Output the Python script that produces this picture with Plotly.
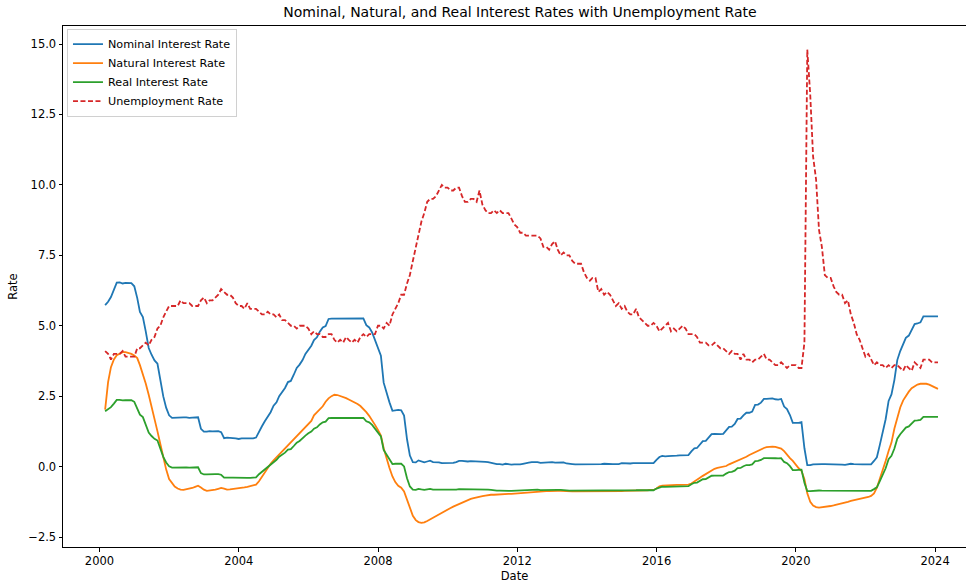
import pandas as pd
import plotly.graph_objects as go

# Monthly observations, Feb 2000 .. Jan 2024 (plotted at month end)
start_month = "2000-03-01"
n_months = 288

nominal = [
    5.73, 5.85, 6.02, 6.27, 6.53, 6.54, 6.50, 6.52, 6.51, 6.51, 6.40,
    5.98, 5.49, 5.31, 4.80, 4.21, 3.97, 3.77, 3.65, 3.07, 2.49, 2.09, 1.82,
    1.73, 1.74, 1.73, 1.75, 1.75, 1.75, 1.73, 1.74, 1.75, 1.75, 1.34, 1.24,
    1.24, 1.26, 1.25, 1.26, 1.26, 1.22, 1.01, 1.03, 1.01, 1.01, 1.00, 0.98,
    1.00, 1.01, 1.00, 1.00, 1.00, 1.03, 1.26, 1.43, 1.61, 1.76, 1.93, 2.16,
    2.28, 2.50, 2.63, 2.79, 3.00, 3.04, 3.26, 3.50, 3.62, 3.78, 4.00, 4.16,
    4.29, 4.49, 4.59, 4.79, 4.94, 4.99, 5.24, 5.25, 5.25, 5.25, 5.25, 5.24,
    5.25, 5.26, 5.26, 5.25, 5.25, 5.25, 5.26, 5.02, 4.94, 4.76, 4.49, 4.24,
    3.94, 2.98, 2.61, 2.28, 1.98, 2.00, 2.01, 2.00, 1.81, 0.97, 0.39, 0.16,
    0.15, 0.22, 0.18, 0.15, 0.18, 0.21, 0.16, 0.16, 0.15, 0.12, 0.12, 0.12,
    0.11, 0.13, 0.16, 0.20, 0.20, 0.18, 0.18, 0.19, 0.19, 0.19, 0.19, 0.18,
    0.17, 0.16, 0.14, 0.10, 0.09, 0.09, 0.07, 0.10, 0.08, 0.07, 0.08, 0.07,
    0.08, 0.10, 0.13, 0.14, 0.16, 0.16, 0.16, 0.13, 0.14, 0.16, 0.16, 0.16,
    0.14, 0.15, 0.14, 0.15, 0.11, 0.09, 0.09, 0.08, 0.08, 0.09, 0.08, 0.09,
    0.07, 0.07, 0.08, 0.09, 0.09, 0.10, 0.09, 0.09, 0.09, 0.09, 0.09, 0.12,
    0.11, 0.11, 0.11, 0.12, 0.12, 0.13, 0.13, 0.14, 0.14, 0.12, 0.12, 0.24,
    0.34, 0.38, 0.36, 0.37, 0.37, 0.38, 0.39, 0.40, 0.40, 0.40, 0.41, 0.54,
    0.65, 0.66, 0.79, 0.90, 0.91, 1.04, 1.15, 1.16, 1.15, 1.15, 1.16, 1.30,
    1.41, 1.42, 1.51, 1.69, 1.70, 1.82, 1.91, 1.91, 1.95, 2.19, 2.20, 2.27,
    2.40, 2.40, 2.41, 2.42, 2.39, 2.38, 2.40, 2.13, 2.04, 1.83, 1.55, 1.55,
    1.55, 1.58, 0.65, 0.05, 0.05, 0.08, 0.09, 0.10, 0.09, 0.09, 0.09, 0.09,
    0.09, 0.08, 0.07, 0.07, 0.06, 0.08, 0.10, 0.09, 0.08, 0.08, 0.08, 0.08,
    0.08, 0.08, 0.20, 0.33, 0.77, 1.21, 1.68, 2.33, 2.56, 3.08, 3.78, 4.10,
    4.33, 4.57, 4.65, 4.83, 5.06, 5.08, 5.12, 5.33, 5.33, 5.33, 5.33, 5.33,
    5.33,
]

natural = [
    2.02, 3.00, 3.53, 3.80, 3.95, 4.02, 4.06, 4.06, 4.04, 4.00, 3.94, 3.85,
    3.60, 3.30, 2.95, 2.55, 2.15, 1.70, 1.25, 0.80, 0.30, -0.10, -0.44, -0.60,
    -0.71, -0.78, -0.82, -0.83, -0.81, -0.79, -0.76, -0.72, -0.68, -0.74, -0.82, -0.86,
    -0.85, -0.83, -0.82, -0.79, -0.76, -0.78, -0.82, -0.81, -0.80, -0.79, -0.78, -0.76,
    -0.74, -0.72, -0.69, -0.67, -0.64, -0.52, -0.36, -0.20, -0.05, 0.10, 0.22, 0.33,
    0.44, 0.55, 0.65, 0.76, 0.87, 0.98, 1.09, 1.20, 1.30, 1.41, 1.51, 1.62,
    1.82, 1.92, 2.03, 2.14, 2.30, 2.42, 2.50, 2.55, 2.54, 2.51, 2.47, 2.43,
    2.38, 2.33, 2.28, 2.22, 2.15, 2.05, 1.93, 1.80, 1.65, 1.48, 1.30, 1.10,
    0.65, 0.25, -0.05, -0.35, -0.55, -0.68, -0.75, -0.88, -1.20, -1.50, -1.75, -1.90,
    -1.97, -2.00, -1.98, -1.93, -1.87, -1.81, -1.75, -1.69, -1.63, -1.57, -1.52, -1.47,
    -1.42, -1.37, -1.32, -1.27, -1.23, -1.19, -1.15, -1.12, -1.09, -1.07, -1.05, -1.03,
    -1.01, -1.00, -1.00, -0.99, -0.99, -0.98, -0.98, -0.97, -0.97, -0.96, -0.95, -0.94,
    -0.93, -0.92, -0.91, -0.90, -0.89, -0.88, -0.88, -0.87, -0.87, -0.87, -0.86, -0.86,
    -0.86, -0.86, -0.87, -0.87, -0.88, -0.88, -0.88, -0.88, -0.89, -0.89, -0.89, -0.89,
    -0.89, -0.89, -0.89, -0.88, -0.88, -0.88, -0.88, -0.88, -0.87, -0.87, -0.87, -0.86,
    -0.86, -0.86, -0.85, -0.85, -0.85, -0.84, -0.84, -0.84, -0.83, -0.83, -0.78, -0.70,
    -0.68, -0.67, -0.67, -0.66, -0.66, -0.65, -0.65, -0.65, -0.64, -0.64, -0.60, -0.52,
    -0.48, -0.40, -0.33, -0.27, -0.20, -0.13, -0.08, -0.05, -0.03, -0.02, 0.02, 0.08,
    0.12, 0.16, 0.21, 0.26, 0.30, 0.35, 0.41, 0.46, 0.52, 0.57, 0.62, 0.66,
    0.69, 0.71, 0.71, 0.70, 0.68, 0.64, 0.55, 0.42, 0.30, 0.20, 0.06, -0.06,
    -0.15, -0.45, -0.95, -1.25, -1.38, -1.44, -1.46, -1.45, -1.44, -1.42, -1.40, -1.38,
    -1.36, -1.33, -1.31, -1.28, -1.25, -1.22, -1.20, -1.17, -1.14, -1.12, -1.10, -1.08,
    -1.04, -0.95, -0.75, -0.45, -0.15, 0.20, 0.55, 0.85, 1.35, 1.75, 2.10, 2.35,
    2.52, 2.66, 2.78, 2.86, 2.91, 2.94, 2.95, 2.94, 2.91, 2.87, 2.82, 2.76,
]

real = [
    1.965, 2.025, 2.11, 2.235, 2.365, 2.37, 2.35, 2.36, 2.355, 2.355, 2.30,
    2.09, 1.845, 1.755, 1.50, 1.205, 1.085, 0.985, 0.925, 0.635, 0.345, 0.145, 0.01,
    -0.035, -0.03, -0.035, -0.025, -0.025, -0.025, -0.035, -0.03, -0.025, -0.025, -0.23, -0.28,
    -0.28, -0.27, -0.275, -0.27, -0.27, -0.29, -0.395, -0.385, -0.395, -0.395, -0.40, -0.41,
    -0.40, -0.395, -0.40, -0.40, -0.40, -0.385, -0.27, -0.185, -0.095, -0.02, 0.065, 0.18,
    0.24, 0.35, 0.415, 0.495, 0.60, 0.62, 0.73, 0.85, 0.91, 0.99, 1.10, 1.18,
    1.245, 1.345, 1.395, 1.495, 1.57, 1.595, 1.72, 1.725, 1.725, 1.725, 1.725, 1.72,
    1.725, 1.73, 1.73, 1.725, 1.725, 1.725, 1.73, 1.61, 1.57, 1.48, 1.345, 1.22,
    1.07, 0.59, 0.405, 0.24, 0.09, 0.10, 0.105, 0.10, 0.005, -0.415, -0.705, -0.82,
    -0.825, -0.79, -0.81, -0.825, -0.81, -0.795, -0.82, -0.82, -0.825, -0.84, -0.84, -0.84,
    -0.845, -0.835, -0.82, -0.80, -0.80, -0.81, -0.81, -0.805, -0.805, -0.805, -0.805, -0.81,
    -0.815, -0.82, -0.83, -0.85, -0.855, -0.855, -0.865, -0.85, -0.86, -0.865, -0.86, -0.865,
    -0.86, -0.85, -0.835, -0.83, -0.82, -0.82, -0.82, -0.835, -0.83, -0.82, -0.82, -0.82,
    -0.83, -0.825, -0.83, -0.825, -0.845, -0.855, -0.855, -0.86, -0.86, -0.855, -0.86, -0.855,
    -0.865, -0.865, -0.86, -0.855, -0.855, -0.85, -0.855, -0.855, -0.855, -0.855, -0.855, -0.84,
    -0.845, -0.845, -0.845, -0.84, -0.84, -0.835, -0.835, -0.83, -0.83, -0.84, -0.84, -0.78,
    -0.73, -0.71, -0.72, -0.715, -0.715, -0.71, -0.705, -0.70, -0.70, -0.70, -0.695, -0.63,
    -0.575, -0.57, -0.505, -0.45, -0.445, -0.38, -0.325, -0.32, -0.325, -0.325, -0.32, -0.25,
    -0.195, -0.19, -0.145, -0.055, -0.05, 0.01, 0.055, 0.055, 0.075, 0.195, 0.20, 0.235,
    0.30, 0.30, 0.305, 0.31, 0.295, 0.29, 0.30, 0.165, 0.12, 0.015, -0.125, -0.125,
    -0.125, -0.11, -0.575, -0.875, -0.875, -0.86, -0.855, -0.85, -0.855, -0.855, -0.855, -0.855,
    -0.855, -0.86, -0.865, -0.865, -0.87, -0.86, -0.85, -0.855, -0.86, -0.86, -0.86, -0.86,
    -0.86, -0.86, -0.80, -0.735, -0.515, -0.295, -0.06, 0.265, 0.38, 0.64, 0.99, 1.15,
    1.265, 1.385, 1.425, 1.515, 1.63, 1.64, 1.66, 1.765, 1.765, 1.765, 1.765, 1.765,
    1.765,
]

unemployment = [
    4.1, 4.0, 3.8, 4.0, 4.0, 4.0, 4.1, 3.9, 3.9, 3.9, 3.9,
    4.2, 4.2, 4.3, 4.4, 4.3, 4.5, 4.6, 4.9, 5.0, 5.3, 5.5, 5.7,
    5.7, 5.7, 5.7, 5.9, 5.8, 5.8, 5.8, 5.7, 5.7, 5.7, 5.9, 6.0,
    5.8, 5.9, 5.9, 6.0, 6.1, 6.3, 6.2, 6.1, 6.1, 6.0, 5.8, 5.7,
    5.7, 5.6, 5.8, 5.6, 5.6, 5.6, 5.5, 5.4, 5.4, 5.5, 5.4, 5.4,
    5.3, 5.4, 5.2, 5.2, 5.1, 5.0, 5.0, 4.9, 5.0, 5.0, 5.0, 4.9,
    4.7, 4.8, 4.7, 4.7, 4.6, 4.6, 4.7, 4.7, 4.5, 4.4, 4.5, 4.4,
    4.6, 4.5, 4.4, 4.5, 4.4, 4.6, 4.7, 4.6, 4.7, 4.7, 4.7, 5.0,
    5.0, 4.9, 5.1, 5.0, 5.4, 5.6, 5.8, 6.1, 6.1, 6.5, 6.8, 7.3,
    7.8, 8.3, 8.7, 9.0, 9.4, 9.5, 9.5, 9.6, 9.8, 10.0, 9.9, 9.9,
    9.8, 9.8, 9.9, 9.9, 9.6, 9.4, 9.4, 9.5, 9.5, 9.4, 9.8, 9.3,
    9.1, 9.0, 9.0, 9.1, 9.0, 9.1, 9.0, 9.0, 9.0, 8.8, 8.6, 8.5,
    8.3, 8.3, 8.2, 8.2, 8.2, 8.2, 8.2, 8.1, 7.8, 7.8, 7.7, 7.9,
    8.0, 7.7, 7.5, 7.6, 7.5, 7.5, 7.3, 7.2, 7.2, 7.2, 6.9, 6.7,
    6.6, 6.7, 6.7, 6.2, 6.3, 6.1, 6.2, 6.1, 5.9, 5.7, 5.8, 5.6,
    5.7, 5.5, 5.4, 5.4, 5.6, 5.3, 5.2, 5.1, 5.0, 5.0, 5.1, 5.0,
    4.8, 4.9, 5.0, 5.1, 4.8, 4.9, 4.8, 4.9, 5.0, 4.9, 4.7, 4.7,
    4.7, 4.6, 4.4, 4.4, 4.4, 4.3, 4.3, 4.4, 4.3, 4.2, 4.2, 4.1,
    4.0, 4.1, 4.0, 4.0, 3.8, 4.0, 3.8, 3.8, 3.7, 3.8, 3.8, 3.9,
    4.0, 3.8, 3.8, 3.7, 3.6, 3.6, 3.7, 3.6, 3.5, 3.6, 3.6, 3.6,
    3.5, 3.5, 4.4, 14.8, 13.2, 11.0, 10.2, 8.4, 7.8, 6.8, 6.7, 6.7,
    6.4, 6.2, 6.1, 6.1, 5.8, 5.9, 5.4, 5.1, 4.7, 4.5, 4.2, 3.9,
    4.0, 3.8, 3.6, 3.7, 3.6, 3.6, 3.5, 3.6, 3.5, 3.6, 3.6, 3.5,
    3.4, 3.6, 3.5, 3.4, 3.7, 3.6, 3.5, 3.8, 3.8, 3.8, 3.7, 3.7,
    3.7,
]

tick_years = [2000, 2004, 2008, 2012, 2016, 2020, 2024]
y_ticks = [-2.5, 0.0, 2.5, 5.0, 7.5, 10.0, 12.5, 15.0]

dates = pd.date_range(start=start_month, periods=n_months, freq="MS") - pd.Timedelta(days=1)

FONT = "DejaVu Sans"
fig = go.Figure()
series = [
    ("Nominal Interest Rate", nominal, "#1f77b4", "solid"),
    ("Natural Interest Rate", natural, "#ff7f0e", "solid"),
    ("Real Interest Rate", real, "#2ca02c", "solid"),
    ("Unemployment Rate", unemployment, "#d62728", "5px,2.5px"),
]
for name, vals, color, dash in series:
    fig.add_trace(go.Scatter(
        x=dates, y=vals, mode="lines", name=name,
        line=dict(color=color, width=1.8, dash=dash),
    ))

fig.update_layout(
    width=966, height=585,
    margin=dict(l=63, r=0, t=26, b=38),
    paper_bgcolor="white", plot_bgcolor="white",
    font=dict(family=FONT, size=11.5, color="black"),
    title=dict(text="Nominal, Natural, and Real Interest Rates with Unemployment Rate",
               x=520 / 966, xanchor="center", xref="container",
               y=1 - 12 / 585, yanchor="middle", yref="container",
               font=dict(family=FONT, size=14, color="black")),
    showlegend=True,
    legend=dict(x=0.0044, y=0.995, xanchor="left", yanchor="top",
                bgcolor="rgba(255,255,255,0.8)", bordercolor="#d0d0d0", borderwidth=1,
                font=dict(family=FONT, size=11.2, color="black"),
                tracegroupgap=0, itemwidth=30),
)
fig.update_xaxes(
    type="date",
    range=["1998-12-14", "2024-11-20"],
    tickvals=[f"{y}-01-01" for y in tick_years],
    ticktext=[str(y) for y in tick_years],
    ticks="outside", ticklen=3.5, tickcolor="black", tickwidth=1,
    showline=True, linecolor="black", linewidth=1, mirror=True,
    showgrid=False, zeroline=False,
    title=dict(text="Date", font=dict(family=FONT, size=11.5), standoff=4),
)
fig.update_yaxes(
    range=[-2.855, 15.64],
    tickvals=y_ticks,
    ticktext=[f"{v:.1f}".replace("-", "\u2212") for v in y_ticks],
    ticks="outside", ticklen=3.5, tickcolor="black", tickwidth=1,
    showline=True, linecolor="black", linewidth=1, mirror=False,
    showgrid=False, zeroline=False,
    title=dict(text="Rate", font=dict(family=FONT, size=11.5), standoff=8),
)

# place the figure at the page's top-left corner (no default body margin), no modebar
fig.write_html("out.html", config={"displayModeBar": False},
               post_script="document.body.style.margin='0px';")
